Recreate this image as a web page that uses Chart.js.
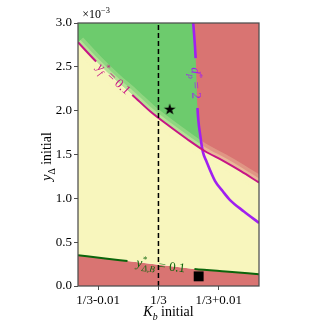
<!DOCTYPE html>
<html>
<head>
<meta charset="utf-8">
<script src="https://cdn.jsdelivr.net/npm/chart.js@4"></script>
<style>
html, body { margin: 0; padding: 0; background: #fff; }
canvas { display: block; }
</style>
</head>
<body>
<canvas id="myChart" width="330" height="329"></canvas>
<script>
// curves: x = K_b initial, y = y_delta initial in units of 1e-3
const magentaX = [0.320, 0.323, 0.326, 0.329, 0.332, 0.335, 0.338, 0.341, 0.344, 0.347, 0.350];
const magentaY = [2.78, 2.56, 2.36, 2.18, 1.99, 1.83, 1.68, 1.54, 1.43, 1.31, 1.18];
const purpleX = [0.3391, 0.3395, 0.3398, 0.3403, 0.3407, 0.3413, 0.3427, 0.3440, 0.3452, 0.3475, 0.3500];
const purpleY = [3.0, 2.6, 2.03, 1.7, 1.53, 1.42, 1.2, 1.08, 0.98, 0.85, 0.72];
const greenX = [0.320, 0.3245, 0.3282, 0.3393, 0.3445, 0.350];
const greenY = [0.35, 0.315, 0.285, 0.195, 0.165, 0.135];
const starPt = [0.3352, 2.02];
const squarePt = [0.3400, 0.11];
const xTicks = [1/3 - 0.01, 1/3, 1/3 + 0.01];
const xTickLabels = ['1/3-0.01', '1/3', '1/3+0.01'];

// where the contour labels sit (segments left blank)
const magentaGap = [0.323, 0.329];
const purpleGap = [0.3395, 0.3398];
const greenGap = [0.3282, 0.3393];

const GREEN = '#6dcb6d', RED = '#d97472', YELLOW = '#f8f6bd';
const C_MAG = '#c71585', C_PUR = '#a020f0', C_DG = '#0b650b';
const SERIF = '"Liberation Serif", "DejaVu Serif", serif';

const pts = (xs, ys) => xs.map((x, i) => ({x: x, y: ys[i]}));
const magenta = pts(magentaX, magentaY);
const purple = pts(purpleX, purpleY);
const greenLine = pts(greenX, greenY);

function gapColor(color, gap) {
  return c => (c.p0.parsed.x >= gap[0] - 1e-9 && c.p1.parsed.x <= gap[1] + 1e-9) ? 'rgba(0,0,0,0)' : color;
}

// filled star marker
const star = document.createElement('canvas');
star.width = 14; star.height = 14;
const sc = star.getContext('2d');
sc.beginPath();
for (let i = 0; i < 10; i++) {
  let r = i % 2 ? 2.4 : 6.2;
  let a = -Math.PI / 2 + i * Math.PI / 5;
  sc.lineTo(7 + r * Math.cos(a), 7.6 + r * Math.sin(a));
}
sc.closePath();
sc.fillStyle = '#000';
sc.fill();

// little helper for mathtext-like labels (italic, sub, sup)
function drawMath(ctx, parts, x, y, angle, color, size) {
  ctx.save();
  ctx.translate(x, y);
  ctx.rotate(angle);
  ctx.fillStyle = color;
  ctx.textBaseline = 'alphabetic';
  ctx.textAlign = 'left';
  let w = 0, prevStart = 0;
  let laid = parts.map(p => {
    let s = size * (p.sub || p.sup ? 0.7 : 1);
    let font = (p.it ? 'italic ' : '') + s + 'px ' + SERIF;
    ctx.font = font;
    let pw = ctx.measureText(p.t).width;
    let start;
    if (p.stack) { start = prevStart; w = Math.max(w, start + pw); }
    else { start = w; w += pw; }
    prevStart = start;
    return {t: p.t, font: font, start: start, dy: p.sub ? 0.28 * size : p.sup ? -0.4 * size : 0};
  });
  laid.forEach(l => {
    ctx.font = l.font;
    ctx.fillText(l.t, -w / 2 + l.start, 0.35 * size + l.dy);
  });
  ctx.restore();
}

function gapLabel(chart, data, gap, parts, color, size) {
  let xs = chart.scales.x, ys = chart.scales.y;
  let a = data.find(p => Math.abs(p.x - gap[0]) < 1e-9);
  let b = data.find(p => Math.abs(p.x - gap[1]) < 1e-9);
  let ax = xs.getPixelForValue(a.x), ay = ys.getPixelForValue(a.y);
  let bx = xs.getPixelForValue(b.x), by = ys.getPixelForValue(b.y);
  drawMath(chart.ctx, parts, (ax + bx) / 2, (ay + by) / 2, Math.atan2(by - ay, bx - ax), color, size);
}

const decor = {
  id: 'decor',
  afterDatasetsDraw(chart) {
    let ctx = chart.ctx, ca = chart.chartArea;
    ctx.save();
    ctx.strokeStyle = '#4d4d4d';
    ctx.lineWidth = 1.25;
    ctx.strokeRect(ca.left, ca.top, ca.right - ca.left, ca.bottom - ca.top);
    ctx.restore();

    gapLabel(chart, magenta, magentaGap, [
      {t: 'y', it: true}, {t: '*', sup: true}, {t: 'f', sub: true, it: true, stack: true},
      {t: ' = 0.1'}], C_MAG, 13);
    gapLabel(chart, purple, purpleGap, [
      {t: 'd', it: true}, {t: '*', sup: true}, {t: 'p', sub: true, it: true, stack: true},
      {t: ' = 2'}], C_PUR, 13);
    gapLabel(chart, greenLine, greenGap, [
      {t: 'y', it: true}, {t: '*', sup: true}, {t: 'Δ,B', sub: true, it: true, stack: true},
      {t: ' = 0.1'}], C_DG, 13);

    // axis titles and offset text
    let cx = (ca.left + ca.right) / 2, cy = (ca.top + ca.bottom) / 2;
    drawMath(ctx, [{t: 'K', it: true}, {t: 'b', sub: true, it: true}, {t: ' initial'}], cx, 311, 0, '#000', 14);
    drawMath(ctx, [{t: 'y', it: true}, {t: 'Δ', sub: true}, {t: ' initial'}], 46, cy + 2, -Math.PI / 2, '#000', 14);
    drawMath(ctx, [{t: '×10'}, {t: '−3', sup: true}], ca.left + 18, ca.top - 9, 0, '#000', 12);
  }
};

const lineBase = {pointRadius: 0, cubicInterpolationMode: 'monotone', fill: false};

let chart = new Chart(document.getElementById('myChart').getContext('2d'), {
  type: 'line',
  data: {
    datasets: [
      // 0 green above y_f* curve
      {...lineBase, data: magenta, borderColor: 'rgba(0,0,0,0)', backgroundColor: GREEN, fill: 'end', order: 13},
      // 1 red right of d_p* curve
      {...lineBase, data: purple, borderColor: 'rgba(0,0,0,0)', backgroundColor: RED, fill: 'end', order: 12},
      // 2 red under y_delta,B* line
      {...lineBase, data: greenLine, borderColor: 'rgba(0,0,0,0)', backgroundColor: RED, fill: 'start', order: 11},
      // 3 yellow band between
      {...lineBase, data: magenta, borderColor: 'rgba(0,0,0,0)', backgroundColor: YELLOW, fill: {target: 2}, order: 10},
      // 4,5 soft edge along the y_f* boundary
      {...lineBase, data: magenta, borderColor: 'rgba(248,246,189,0.25)', borderWidth: 14, order: 6},
      {...lineBase, data: magenta, borderColor: 'rgba(248,246,189,0.35)', borderWidth: 7, order: 5},
      // 6-8 contour lines
      {...lineBase, data: magenta, borderColor: C_MAG, borderWidth: 2,
        segment: {borderColor: gapColor(C_MAG, magentaGap)}, order: 2},
      {...lineBase, data: purple, borderColor: C_PUR, borderWidth: 2.6,
        segment: {borderColor: gapColor(C_PUR, purpleGap)}, order: 2},
      {...lineBase, data: greenLine, borderColor: C_DG, borderWidth: 2,
        segment: {borderColor: gapColor(C_DG, greenGap)}, order: 2},
      // 9 dashed K_b = 1/3
      {...lineBase, data: [{x: 1/3, y: 0}, {x: 1/3, y: 3}], borderColor: '#000', borderWidth: 1.5,
        borderDash: [5, 3], cubicInterpolationMode: 'default', order: 1},
      // 10 star, 11 square
      {data: [{x: starPt[0], y: starPt[1]}], showLine: false, pointStyle: star, pointRadius: 7, order: 0},
      {data: [{x: squarePt[0], y: squarePt[1]}], showLine: false, pointStyle: 'rect', pointRadius: 7,
        backgroundColor: '#000', borderWidth: 0, order: 0}
    ]
  },
  options: {
    responsive: false,
    animation: false,
    layout: {padding: {left: 0, right: 71, top: 23, bottom: 0}},
    plugins: {legend: {display: false}, tooltip: {enabled: false}},
    scales: {
      x: {
        type: 'linear', min: 0.32, max: 0.35,
        afterBuildTicks: s => { s.ticks = xTicks.map(v => ({value: v})); },
        afterFit: s => { s.height = 43; },
        ticks: {callback: (v, i) => xTickLabels[i], color: '#000', padding: 3, maxRotation: 0,
          font: {family: SERIF, size: 13}},
        grid: {drawOnChartArea: false, tickLength: 4, color: '#4d4d4d'},
        border: {display: false}
      },
      y: {
        min: 0, max: 3,
        afterFit: s => { s.width = 78; },
        ticks: {stepSize: 0.5, callback: v => v.toFixed(1), color: '#000', padding: 2,
          font: {family: SERIF, size: 13}},
        grid: {drawOnChartArea: false, tickLength: 4, color: '#4d4d4d'},
        border: {display: false}
      }
    }
  },
  plugins: [decor]
});
</script>
</body>
</html>
